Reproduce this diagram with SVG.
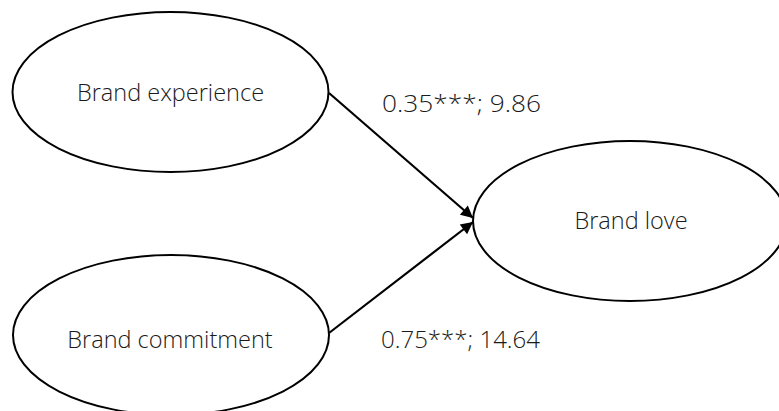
<svg xmlns="http://www.w3.org/2000/svg" width="779" height="411" viewBox="0 0 779 411">
<style>
.node ellipse{fill:#fff;stroke:#000;stroke-width:2}
text{font-family:"Open Sans","Liberation Sans",sans-serif;font-weight:300;font-size:23.5px;fill:#1a1a1a}
.lbl{text-anchor:middle}
.edge{stroke:#000;stroke-width:2.2;fill:none;marker-end:url(#ah)}
</style>
<defs>
<marker id="ah" viewBox="0 0 10 10" refX="10" refY="5" markerWidth="7" markerHeight="5.5" orient="auto" markerUnits="strokeWidth">
<path d="M0,0 L10,5 L0,10 z" fill="#000"/>
</marker>
</defs>
<rect width="779" height="411" fill="#fff"/>
<g id="n-experience" class="node">
<ellipse cx="170.5" cy="92" rx="158" ry="80"/>
<text class="lbl" x="170.5" y="101">Brand experience</text>
</g>
<g id="n-commitment" class="node">
<ellipse cx="171" cy="335" rx="158" ry="80"/>
<text class="lbl" x="170" y="348">Brand commitment</text>
</g>
<g id="n-love" class="node">
<ellipse cx="630" cy="221" rx="157" ry="80"/>
<text class="lbl" x="631" y="229">Brand love</text>
</g>
<g id="connectors">
<line class="edge" x1="329" y1="93" x2="473" y2="218"/>
<line class="edge" x1="329" y1="333" x2="473" y2="222"/>
<text x="382" y="112" textLength="159" lengthAdjust="spacingAndGlyphs">0.35***; 9.86</text>
<text x="381" y="347.5" textLength="159" lengthAdjust="spacingAndGlyphs">0.75***; 14.64</text>
</g>
</svg>
